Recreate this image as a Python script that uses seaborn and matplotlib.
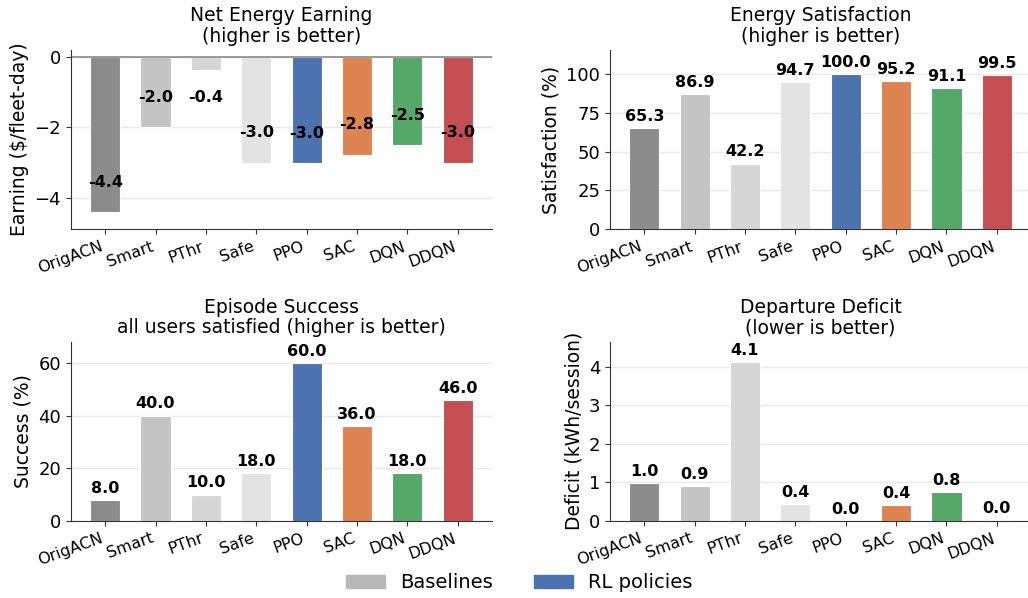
import matplotlib.pyplot as plt
import matplotlib.patches as mpatches
import seaborn as sns

methods = ["OrigACN", "Smart", "PThr", "Safe", "PPO", "SAC", "DQN", "DDQN"]
colors = ["#8c8c8c", "#c4c4c4", "#d6d6d6", "#e3e3e3",
          "#4c72b0", "#dd8452", "#55a868", "#c44e52"]

earning = [-4.4, -2.0, -0.37, -3.0, -3.02, -2.77, -2.5, -3.0]
satisfaction = [65.3, 86.9, 42.2, 94.7, 100.0, 95.2, 91.1, 99.5]
success = [8.0, 40.0, 10.0, 18.0, 60.0, 36.0, 18.0, 46.0]
deficit = [0.98, 0.9, 4.13, 0.43, 0.0, 0.4, 0.75, 0.03]

sns.set_style("ticks")
plt.rcParams['font.family'] = ['DejaVu Sans']
plt.rcParams.update({"text.color": "black", "axes.labelcolor": "black",
                     "xtick.color": "black", "ytick.color": "black"})

fig = plt.figure(figsize=(10.28, 5.98), dpi=100)
w, h = 0.4096, 0.2995
ax_e = fig.add_axes([0.069, 0.617, w, h])
ax_s = fig.add_axes([0.5934, 0.617, w, h])
ax_p = fig.add_axes([0.069, 0.129, w, h])
ax_d = fig.add_axes([0.5934, 0.129, w, h])


def draw(ax, vals, title, ylabel):
    sns.barplot(x=methods, y=vals, hue=methods, palette=colors, width=0.6,
                saturation=1, edgecolor="white", linewidth=0.8, legend=False, ax=ax)
    ax.set_title(title, fontsize=13.5, linespacing=1.1)
    ax.set_ylabel(ylabel, fontsize=13.5)
    ax.set_xlabel("")
    ax.grid(axis="y", color="#e8e8e8", linewidth=1)
    ax.set_axisbelow(True)
    sns.despine(ax=ax)
    for s in ["left", "bottom"]:
        ax.spines[s].set_color("#333333")
    ax.tick_params(axis="y", labelsize=13, colors="black")
    ax.tick_params(axis="x", labelsize=11.5, colors="black")
    ax.tick_params(color="#333333")
    plt.setp(ax.get_xticklabels(), rotation=20, ha="right")


def top_labels(ax, vals):
    for i, v in enumerate(vals):
        ax.annotate(f"{v:.1f}", (i, v), xytext=(0, 3), textcoords="offset points",
                    ha="center", va="bottom", fontweight="bold", fontsize=11.5)


# earning
draw(ax_e, earning, "Net Energy Earning\n(higher is better)", "Earning ($/fleet-day)")
ax_e.axhline(0, color="#888888", linewidth=1.2)
ax_e.set_ylim(-4.88, 0.2)
ax_e.set_yticks([0, -2, -4])
for i, v in enumerate(earning):
    ax_e.text(i, min(v + 0.85, -1.15), f"{v:.1f}", ha="center", va="center",
              fontweight="bold", fontsize=11.5)

# satisfaction
draw(ax_s, satisfaction, "Energy Satisfaction\n(higher is better)", "Satisfaction (%)")
ax_s.set_ylim(0, 115.5)
ax_s.set_yticks([0, 25, 50, 75, 100])
top_labels(ax_s, satisfaction)

# success
draw(ax_p, success, "Episode Success\nall users satisfied (higher is better)", "Success (%)")
ax_p.set_ylim(0, 68)
ax_p.set_yticks([0, 20, 40, 60])
top_labels(ax_p, success)

# deficit
draw(ax_d, deficit, "Departure Deficit\n(lower is better)", "Deficit (kWh/session)")
ax_d.set_ylim(0, 4.65)
ax_d.set_yticks([0, 1, 2, 3, 4])
top_labels(ax_d, deficit)

for ax in [ax_e, ax_s, ax_p, ax_d]:
    ax.set_xlim(-0.68, 7.68)

handles = [mpatches.Patch(color="#b8b8b8", label="Baselines"),
           mpatches.Patch(color="#4c72b0", label="RL policies")]
fig.legend(handles=handles, loc="lower center", bbox_to_anchor=(0.505, -0.02),
           ncol=2, frameon=False, fontsize=14, columnspacing=2.1)

fig.savefig("out.png", dpi=100)
